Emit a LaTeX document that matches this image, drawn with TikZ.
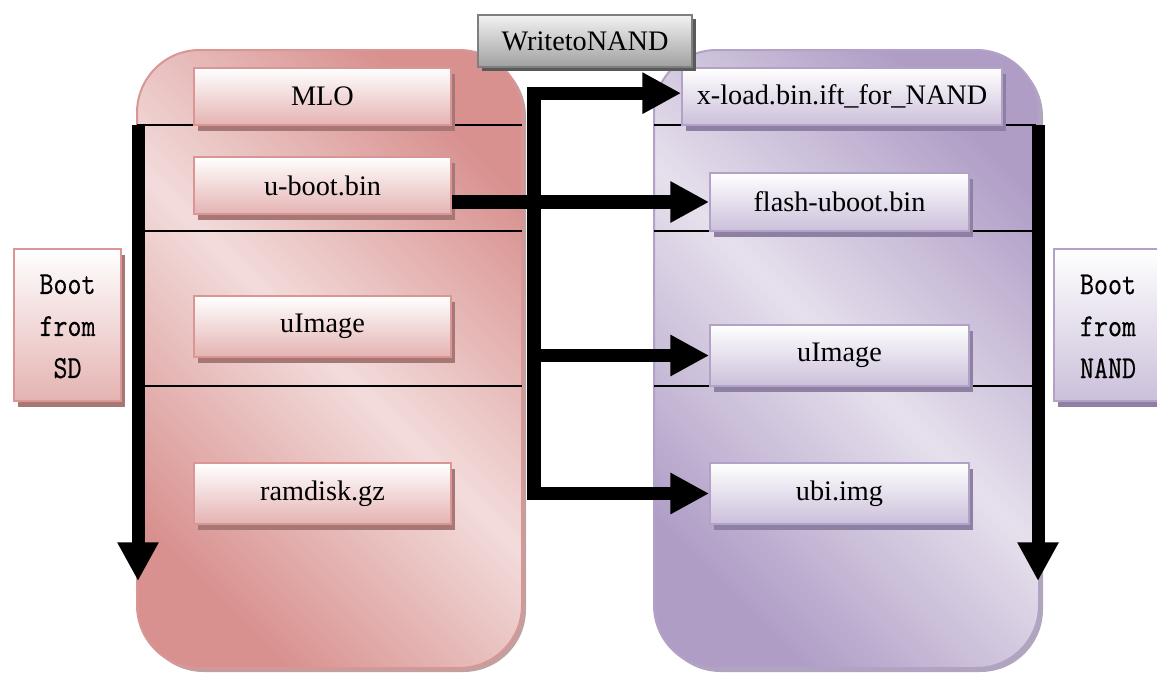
\documentclass[tikz,border=0pt]{standalone}
\usepackage{fontspec}
\usepackage{graphicx}
\setmainfont{Liberation Serif}
\newfontfamily\bootfont[FakeBold=0.6]{Latin Modern Mono}
\usetikzlibrary{arrows.meta,shadows,fit,calc}

\definecolor{pinkEdge}{HTML}{D99694}
\definecolor{pinkDark}{HTML}{D8918F}
\definecolor{pinkLight}{HTML}{F2DCDB}
\definecolor{pinkBoxBot}{HTML}{E4B3B2}
\definecolor{pinkShadow}{HTML}{A77776}
\definecolor{purpEdge}{HTML}{B3A2C7}
\definecolor{purpDark}{HTML}{AF9DC6}
\definecolor{purpLight}{HTML}{E6E0EC}
\definecolor{purpBoxBot}{HTML}{CBBFDA}
\definecolor{purpShadow}{HTML}{8D80A2}
\definecolor{grayEdge}{HTML}{7F7F7F}
\definecolor{grayTop}{HTML}{F2F2F2}
\definecolor{grayBot}{HTML}{A0A0A0}
\definecolor{grayShadow}{HTML}{5A5A5A}

% narrow monospace lettering for the boot source labels
\newcommand{\bt}[1]{\scalebox{0.85}[1]{#1}}

\tikzset{
  panel/.style={draw, line width=1.5pt, rounded corners=47pt, inner sep=0pt},
  sdpanel/.style={panel, draw=pinkEdge,
    drop shadow={shadow xshift=3pt, shadow yshift=-3pt, fill=pinkShadow!70, opacity=1},
    top color=pinkDark, bottom color=pinkDark, middle color=pinkLight, shading angle=-45},
  nandpanel/.style={panel, draw=purpEdge,
    drop shadow={shadow xshift=3pt, shadow yshift=-3pt, fill=purpShadow!70, opacity=1},
    top color=purpDark, bottom color=purpDark, middle color=purpLight, shading angle=-45},
  filebox/.style={draw, line width=1.3pt, inner sep=0pt},
  sdbox/.style={filebox, draw=pinkEdge,
    drop shadow={shadow xshift=3pt, shadow yshift=-4.5pt, fill=pinkShadow, opacity=1},
    top color=white, bottom color=pinkBoxBot},
  nandbox/.style={filebox, draw=purpEdge,
    drop shadow={shadow xshift=3pt, shadow yshift=-4.5pt, fill=purpShadow, opacity=1},
    top color=white, bottom color=purpBoxBot},
  graybox/.style={filebox, draw=grayEdge,
    drop shadow={shadow xshift=3pt, shadow yshift=-3pt, fill=grayShadow, opacity=1},
    top color=grayTop, bottom color=grayBot},
  bootlabel/.style={align=center, font=\bootfont\fontsize{24}{31.5}\selectfont},
  sep/.style={line width=1pt, black},
  fat/.style={line width=10pt, black, line join=miter},
  bighead/.tip={Triangle[length=29pt, width=29pt]},
}

\begin{document}
\begin{tikzpicture}[x=0.75pt, y=-0.75pt, font=\fontsize{21.2}{25}\selectfont]
\clip (0,0) rectangle (1157,675);
\fill[white] (0,0) rectangle (1157,675);

% the two storage panels
\node[sdpanel, fit={(137,50)(522,668)}] (sd) {};
\node[nandpanel, fit={(654,50)(1039,668)}] (nand) {};

% partition separators
\foreach \yy in {125,231,386} {
  \draw[sep] (137,\yy) -- (522,\yy);
  \draw[sep] (654,\yy) -- (1036,\yy);
}

% SD card files
\node[sdbox, fit={(194,68)(451,125)}, label=center:MLO] (mlo) {};
\node[sdbox, fit={(194,157)(451,214)}, label=center:u-boot.bin] (uboot) {};
\node[sdbox, fit={(194,296)(451,357)}, label=center:uImage] (uimgL) {};
\node[sdbox, fit={(194,463)(451,524)}, label=center:ramdisk.gz] (ramdisk) {};

% NAND files
\node[nandbox, fit={(682,68)(1002,125)}, label=center:x-load.bin.ift\_for\_NAND] (xload) {};
\node[nandbox, fit={(710,173)(969,231)}, label=center:flash-uboot.bin] (flash) {};
\node[nandbox, fit={(710,325)(969,386)}, label=center:uImage] (uimgR) {};
\node[nandbox, fit={(710,463)(969,524)}, label=center:ubi.img] (ubi) {};

% title of the write step
\node[graybox, fit={(478,15)(692,67)}, label=center:WritetoNAND] (write) {};

% boot source labels
\node[sdbox, fit={(14,249)(121,401)}] (bootsd) {};
\node[bootlabel] (bootsdtxt) at ([yshift=-1pt]bootsd.center) {\bt{Boot}\\\bt{from}\\\bt{SD}};
\node[nandbox, fit={(1054,249)(1166,401)}] (bootnand) {};
\node[bootlabel] (bootnandtxt) at ([xshift=-1.5pt, yshift=-1pt]bootnand.center) {\bt{Boot}\\\bt{from}\\\bt{NAND}};

% boot order arrows
\coordinate (sdtop) at (138,125);
\coordinate (sdend) at (138,581);
\coordinate (nandtop) at (1038,125);
\coordinate (nandend) at (1038,581);
\draw[fat, line width=9.75pt, -bighead] (sdtop) -- (sdend);
\draw[fat, line width=9.75pt, -bighead] (nandtop) -- (nandend);

% copy paths from SD to NAND
\coordinate (sp) at (534,0);
\draw[fat, bighead-bighead] ([yshift=2.5pt]xload.west) -| (sp |- ubi.west) -- (ubi.west);
\draw[fat, -bighead] (sp |- uimgR.west) -- (uimgR.west);
\draw[fat, -bighead] (uboot.east |- flash.west) -- (flash.west);
\end{tikzpicture}
\end{document}
